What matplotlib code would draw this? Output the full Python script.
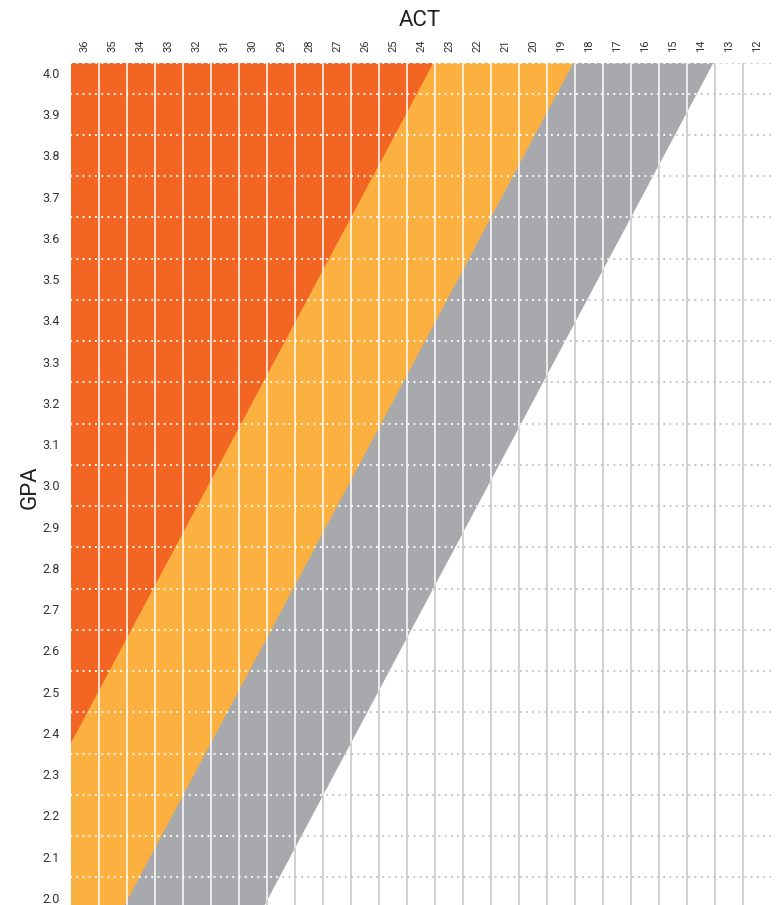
import numpy as np
import matplotlib
matplotlib.use("Agg")
import matplotlib.pyplot as plt
from matplotlib.patches import Polygon

plt.rcParams['font.family'] = ['Roboto', 'DejaVu Sans']

# ACT columns and GPA rows
act_scores = list(range(36, 11, -1))
gpa_values = [round(2.0 + 0.1 * i, 1) for i in range(21)]

# band edges: ACT value where each band ends, read at GPA 2.0 and GPA 4.0
edge_gpa = [2.0, 4.0]
orange_edge = [39.45, 23.75]
yellow_edge = [34.45, 18.75]
gray_edge = [29.45, 13.75]

colors = {'orange': '#F26522', 'yellow': '#FBB040', 'gray': '#A7A9AC'}

fig = plt.figure(figsize=(7.76, 9.05), dpi=100)
ax = fig.add_axes([71 / 776, 0, 700 / 776, 842 / 905])

xmin, xmax = 36.5, 11.5
ymin, ymax = 1.983, 4.024
ax.set_xlim(xmin, xmax)
ax.set_ylim(ymin, ymax)

ys = np.array([ymin - 0.1, ymax + 0.1])


def edge_at(edge, y):
    k = np.polyfit(edge_gpa, edge, 1)
    return np.polyval(k, y)


def band(edge, color, z):
    xe = edge_at(edge, ys)
    pts = [(xmin + 5, ys[0]), (xe[0], ys[0]), (xe[1], ys[1]), (xmin + 5, ys[1])]
    p = Polygon(pts, closed=True, facecolor=color, edgecolor='none', zorder=z)
    ax.add_patch(p)
    return p


# gray first (widest), then yellow, then orange on top
outer = band(gray_edge, colors['gray'], 1)
band(yellow_edge, colors['yellow'], 2)
band(orange_edge, colors['orange'], 3)

# grid: gray on white, white over the colored bands
col_lines = np.arange(11.5, 36.6, 1.0)
row_lines = np.arange(2.05, 4.0, 0.1)
row_lines = np.append(row_lines, ymax - 0.001)

for c, z, clip in [('#C4C4C4', 0.5, False), ('white', 4, True)]:
    for xv in col_lines[1:-1]:
        ln = ax.axvline(xv, color=c, lw=1.1, zorder=z)
        if clip:
            ln.set_clip_path(outer)
    for yv in row_lines:
        ln = ax.axhline(yv, color=c, lw=1.6, ls=(0, (0.01, 2.8)), zorder=z,
                        dash_capstyle='round')
        if clip:
            ln.set_clip_path(outer)

for s in ax.spines.values():
    s.set_visible(False)

ax.xaxis.tick_top()
ax.set_xticks(act_scores)
ax.set_xticklabels([str(a) for a in act_scores], rotation=90, fontsize=8, color='#333333')
ax.set_yticks(gpa_values)
ax.set_yticklabels([f'{g:.1f}' for g in gpa_values], fontsize=9, color='#333333')
ax.tick_params(length=0, pad=8)

fig.text(420 / 776, 1 - 20 / 905, 'ACT', ha='center', va='center', fontsize=16, color='#222222')
fig.text(30 / 776, 1 - 487 / 905, 'GPA', ha='center', va='center', rotation=90,
         fontsize=16, color='#222222')

fig.savefig('out.png', dpi=100)
